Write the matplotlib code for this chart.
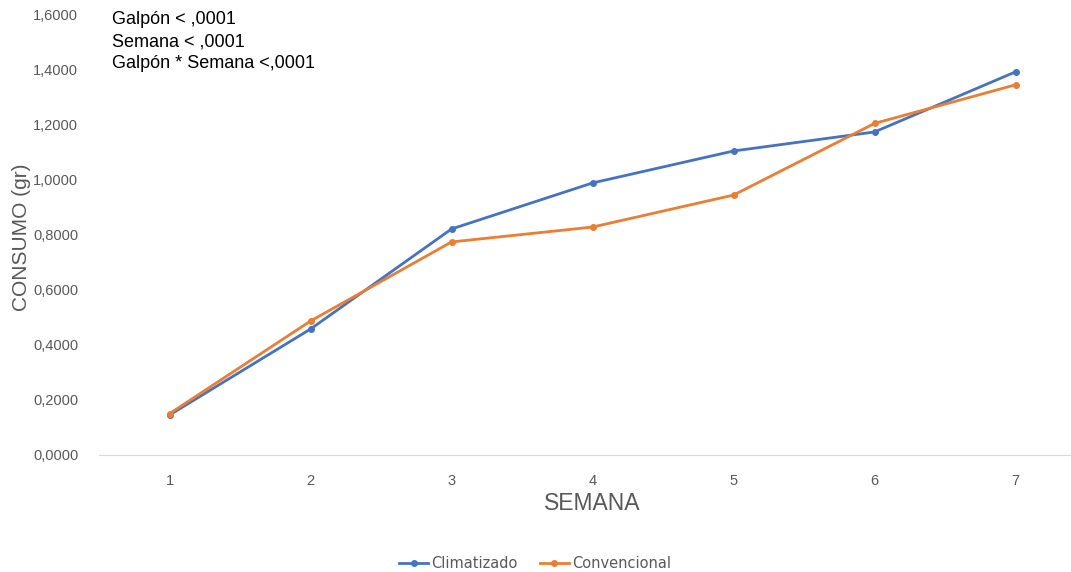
import matplotlib
matplotlib.use('Agg')
import matplotlib.pyplot as plt
from matplotlib.ticker import FuncFormatter

semanas = [1, 2, 3, 4, 5, 6, 7]
climatizado = [0.145, 0.457, 0.820, 0.987, 1.103, 1.172, 1.390]
convencional = [0.150, 0.486, 0.773, 0.827, 0.943, 1.203, 1.343]
y_ticks = [0, 0.2, 0.4, 0.6, 0.8, 1.0, 1.2, 1.4, 1.6]
anotacion = ['Galpón < ,0001', 'Semana < ,0001', 'Galpón * Semana <,0001']

plt.rcParams['font.family'] = ['Liberation Sans', 'DejaVu Sans']
fig = plt.figure(figsize=(10.71, 5.72), dpi=100)
ax = fig.add_axes([99/1071, 1 - 455/572, 972/1071, 441/572])

ax.plot(semanas, climatizado, color='#4472C4', lw=2, marker='o', ms=4, label='Climatizado')
ax.plot(semanas, convencional, color='#ED7D31', lw=2, marker='o', ms=4, label='Convencional')

ax.set_xlim(0.5, 0.5 + 972/141)
ax.set_ylim(0, 1.6)
ax.set_xticks(semanas)
ax.set_yticks(y_ticks)
ax.yaxis.set_major_formatter(FuncFormatter(lambda v, p: f'{v:.4f}'.replace('.', ',')))
ax.tick_params(length=0, colors='#595959', labelsize=10.5)
ax.tick_params(axis='x', pad=14)
ax.tick_params(axis='y', pad=15)
for s in ['top', 'right', 'left']:
    ax.spines[s].set_visible(False)
ax.spines['bottom'].set_color('#D9D9D9')

fig.text(22/1071, 1 - 237/572, 'CONSUMO (gr)', rotation=90, ha='center', va='center',
         fontsize=15, color='#595959')
fig.text(592/1071, 1 - 503/572, 'SEMANA', ha='center', va='center', fontsize=16.5, color='#595959')

for i, t in enumerate(anotacion):
    fig.text(112/1071, 1 - (20 + 22*i)/572, t, ha='left', va='center', fontsize=13, color='black')

fig.legend(loc='center', bbox_to_anchor=(535/1071, 1 - 564/572), ncol=2, frameon=False,
           handlelength=2, columnspacing=1.5, handletextpad=0.2,
           labelcolor='#595959', prop={'family': 'DejaVu Sans', 'size': 10.5})

fig.savefig('out.png', dpi=100)
